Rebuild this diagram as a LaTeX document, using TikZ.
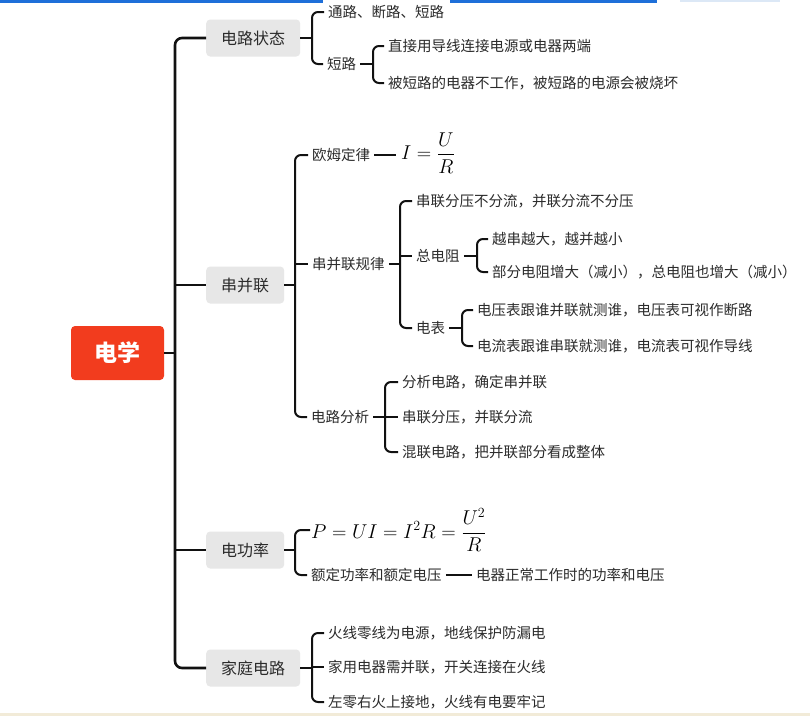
\RequirePackage{fix-cm}
\documentclass[tikz,border=0pt]{standalone}
\usepackage{amsmath}
\usepackage[no-math]{fontspec}
\setmainfont{Noto Sans CJK SC}
\definecolor{rootred}{HTML}{F23C1E}
\definecolor{topicgrey}{HTML}{E7E7E7}
\definecolor{txt}{HTML}{2B2B2B}
\definecolor{ln}{HTML}{111111}
\definecolor{topblue}{HTML}{1E6FD9}
\definecolor{lightblue}{HTML}{DCE8F6}
\definecolor{beige}{HTML}{F2EBD8}
\begin{document}
\begin{tikzpicture}[x=1pt,y=-1pt,
  rootbox/.style={fill=rootred, rounded corners=4pt, text=white, font=\fontsize{23}{26}\selectfont\bfseries, minimum width=93pt, minimum height=54pt, inner sep=0pt},
  topic/.style={fill=topicgrey, rounded corners=4pt, text=txt, font=\fontsize{16}{19}\selectfont, minimum height=37pt, inner xsep=15pt, inner ysep=0pt, anchor=west},
  leaf/.style={text=txt, font=\fontsize{14.5}{17}\selectfont, inner xsep=4pt, inner ysep=1pt, anchor=west},
  mathleaf/.style={text=black, font=\fontsize{20}{24}\selectfont, inner sep=1pt, anchor=west},
  trunk/.style={draw=ln, line width=2.6pt, rounded corners=7pt},
  twig/.style={draw=ln, line width=2pt, rounded corners=6pt},
]
\useasboundingbox (0,0) rectangle (810,716);
\fill[white] (0,0) rectangle (810,716);
\fill[topblue] (0,0) rectangle (323,2.5);
\fill[topblue] (450,0) rectangle (657,2.5);
\fill[lightblue] (680,0) rectangle (780,2);
\fill[beige] (0,713) rectangle (810,716);

% root and topics
\node[rootbox] (root) at (117.5,353) {电学};
\node[topic] (A) at (206,38) {电路状态};
\node[topic] (B) at (206,285) {串并联};
\node[topic] (C) at (206,550) {电功率};
\node[topic] (D) at (206,668) {家庭电路};

\coordinate (b0) at (175,353);
\draw[trunk] (root.east) -- (b0);
\draw[trunk] (A.west) -- (A.west -| b0) -- (D.west -| b0) -- (D.west);
\draw[trunk] (B.west -| b0) -- (B.west);
\draw[trunk] (C.west -| b0) -- (C.west);

% A: 电路状态
\node[leaf] (A1) at (324,12) {通路、断路、短路};
\node[leaf] (A2) at (323,64) {短路};
\node[leaf] (A21) at (384,46) {直接用导线连接电源或电器两端};
\node[leaf] (A22) at (384,83) {被短路的电器不工作，被短路的电源会被烧坏};
\coordinate (bA) at (312,38);
\draw[twig] (A.east) -- (bA);
\draw[twig] (A1.west) -- (A1.west -| bA) -- (A2.west -| bA) -- (A2.west);
\coordinate (bA2) at (373,64);
\draw[twig] (A2.east) -- (bA2);
\draw[twig] (A21.west) -- (A21.west -| bA2) -- (A22.west -| bA2) -- (A22.west);

% B: 串并联
\node[leaf] (B1) at (308,155) {欧姆定律};
\node[leaf] (B2) at (308,264) {串并联规律};
\node[leaf] (B3) at (307,417) {电路分析};
\coordinate (bB) at (295,285);
\draw[twig] (B.east) -- (bB);
\draw[twig] (B1.west) -- (B1.west -| bB) -- (B3.west -| bB) -- (B3.west);
\draw[twig] (B2.west -| bB) -- (B2.west);

\node[mathleaf, inner xsep=5pt] (F1) at (396,153) {$I=\dfrac{U}{R}$};
\draw[twig] (B1.east) -- (B1.east -| F1.west);

\node[leaf] (B21) at (412,201) {串联分压不分流，并联分流不分压};
\node[leaf] (B22) at (412,256) {总电阻};
\node[leaf] (B23) at (412,328) {电表};
\coordinate (bB2) at (400,264);
\draw[twig] (B2.east) -- (bB2);
\draw[twig] (B21.west) -- (B21.west -| bB2) -- (B23.west -| bB2) -- (B23.west);
\draw[twig] (B22.west -| bB2) -- (B22.west);

\node[leaf] (B221) at (488,239) {越串越大，越并越小};
\node[leaf] (B222) at (488,272) {部分电阻增大（减小），总电阻也增大（减小）};
\coordinate (bB22) at (477,256);
\draw[twig] (B22.east) -- (bB22);
\draw[twig] (B221.west) -- (B221.west -| bB22) -- (B222.west -| bB22) -- (B222.west);

\node[leaf] (B231) at (473,310) {电压表跟谁并联就测谁，电压表可视作断路};
\node[leaf] (B232) at (473,346) {电流表跟谁串联就测谁，电流表可视作导线};
\coordinate (bB23) at (462,328);
\draw[twig] (B23.east) -- (bB23);
\draw[twig] (B231.west) -- (B231.west -| bB23) -- (B232.west -| bB23) -- (B232.west);

\node[leaf] (B31) at (398,382) {分析电路，确定串并联};
\node[leaf] (B32) at (398,417) {串联分压，并联分流};
\node[leaf] (B33) at (398,452) {混联电路，把并联部分看成整体};
\coordinate (bB3) at (385,417);
\draw[twig] (B3.east) -- (bB3);
\draw[twig] (B31.west) -- (B31.west -| bB3) -- (B33.west -| bB3) -- (B33.west);
\draw[twig] (B32.west -| bB3) -- (B32.west);

% C: 电功率
\node[mathleaf] (C1) at (310,530) {$P=UI=I^2R=\dfrac{U^2}{R}$};
\node[leaf] (C2) at (307,575) {额定功率和额定电压};
\node[leaf] (C21) at (472,575) {电器正常工作时的功率和电压};
\coordinate (bC) at (295,550);
\draw[twig] (C.east) -- (bC);
\draw[twig] (C1.west) -- (C1.west -| bC) -- (C2.west -| bC) -- (C2.west);
\draw[twig, line width=2.6pt] (C2.east) -- (C21.west);

% D: 家庭电路
\node[leaf] (D1) at (324,633) {火线零线为电源，地线保护防漏电};
\node[leaf] (D2) at (324,667) {家用电器需并联，开关连接在火线};
\node[leaf] (D3) at (324,702) {左零右火上接地，火线有电要牢记};
\coordinate (bD) at (312,668);
\draw[twig] (D.east) -- (bD);
\draw[twig] (D1.west) -- (D1.west -| bD) -- (D3.west -| bD) -- (D3.west);
\draw[twig] (D2.west -| bD) -- (D2.west);
\end{tikzpicture}
\end{document}
